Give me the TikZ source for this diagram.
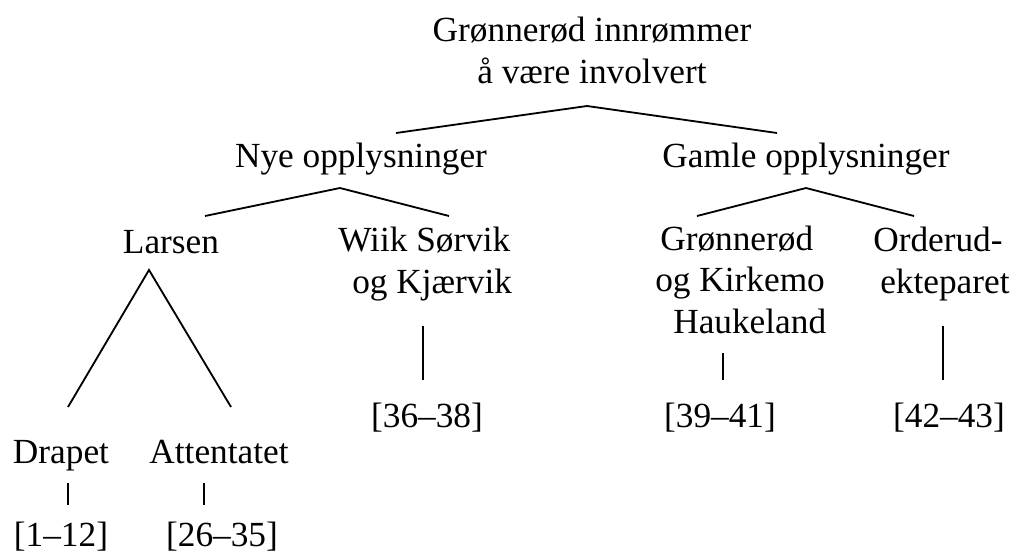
\documentclass[tikz,border=0pt]{standalone}
\usepackage{fontspec}
\setmainfont{Liberation Serif}
\usepackage{tikz}
\usetikzlibrary{positioning, calc}

\tikzset{
  lbl/.style={inner sep=0pt, anchor=base, align=center,
              font=\fontsize{25.1}{29.2}\selectfont},
  lblleft/.style={lbl, anchor=base west, align=left},
  branch/.style={line width=1.3pt},
}

\begin{document}
\begin{tikzpicture}[x=0.025cm, y=-0.025cm]
    \useasboundingbox (0,0) rectangle (1020,553);

    % levels of the tree
    \node[lbl] (root) at (592,83) {Grønnerød innrømmer\\å være involvert};
    \node[lbl] (nye) at (361,167) {Nye opplysninger};
    \node[lbl] (gamle) at (806,167) {Gamle opplysninger};
    \node[lbl] (larsen) at (171,253) {Larsen};
    \node[lblleft] (wiik) at (338,293) {Wiik Sørvik\\\hspace*{0.35cm}og Kjærvik};
    \node[lblleft] (grk) at (655,333) {\hspace*{0.125cm}Grønnerød\\og Kirkemo\\\hspace*{0.45cm}Haukeland};
    \node[lblleft] (orderud) at (873,293) {Orderud-\\\hspace*{0.175cm}ekteparet};
    \node[lbl] (r3638) at (427,427) {[36--38]};
    \node[lbl] (r3941) at (720,427) {[39--41]};
    \node[lbl] (r4243) at (949,427) {[42--43]};
    \node[lbl] (drapet) at (61,463) {Drapet};
    \node[lbl] (attentatet) at (219,463) {Attentatet};
    \node[lbl] (r112) at (61,546) {[1--12]};
    \node[lbl] (r2635) at (222,546) {[26--35]};

    % branches
    \draw[branch] ($(nye.base)+(35,-34)$) -- ($(root.base)+(-5,23)$) -- ($(gamle.base)+(-29,-34)$);
    \draw[branch] ($(larsen.base)+(34,-37)$) -- ($(nye.base)+(-21,21)$) -- ($(wiik.base west)+(111,-77)$);
    \draw[branch] ($(grk.base west)+(42,-117)$) -- ($(gamle.base)+(0,21)$) -- ($(orderud.base west)+(41,-77)$);
    \draw[branch] ($(drapet.base)+(7,-56)$) -- ($(larsen.base)+(-22,17)$) -- ($(attentatet.base)+(12,-56)$);
    \draw[branch] ($(wiik.base west)+(85,33)$) -- ($(r3638.base)+(-4,-47)$);
    \draw[branch] ($(grk.base west)+(68,20)$) -- ($(r3941.base)+(3,-47)$);
    \draw[branch] ($(orderud.base west)+(70,33)$) -- ($(r4243.base)+(-6,-47)$);
    \draw[branch] ($(drapet.base)+(7,20)$) -- ($(r112.base)+(7,-41)$);
    \draw[branch] ($(attentatet.base)+(-15,20)$) -- ($(r2635.base)+(-18,-41)$);
  \end{tikzpicture}
\end{document}
